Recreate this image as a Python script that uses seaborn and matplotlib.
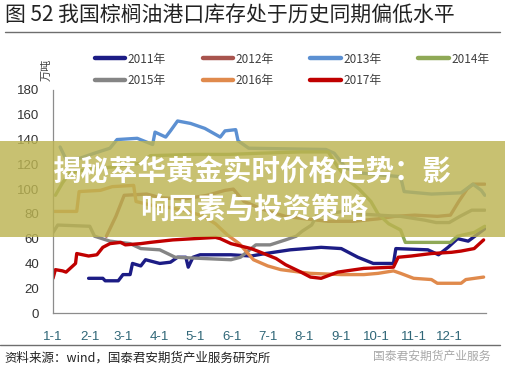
import numpy as np
import pandas as pd
import matplotlib
matplotlib.use("Agg")
import matplotlib.pyplot as plt
import seaborn as sns
from matplotlib.lines import Line2D
from matplotlib.patches import Rectangle

# ----- data (day of year, stock in 10k tonnes) -----
years = ["2011年", "2012年", "2013年", "2014年", "2015年", "2016年", "2017年"]
colors = ["#1C1C85", "#A8544E", "#5C90D2", "#8FA956", "#858585", "#E08A4C", "#C00000"]

day_2011 = [30, 42, 44, 55, 59, 65, 67, 74, 78, 90, 99, 105, 112, 114, 118, 124, 150, 167, 179, 200, 226, 243, 257, 270, 287, 289, 316, 325, 333, 341, 350, 357, 364]
val_2011 = [28, 28, 26, 26, 31, 31, 40, 38, 43, 40, 41, 45, 45, 37, 45, 47, 47, 46, 48, 51, 53, 52, 45, 40, 40, 52, 51, 47, 53, 60, 58, 63, 68]

day_2012 = [45, 53, 60, 79, 91, 110, 130, 145, 152, 161, 171, 182, 196, 213, 232, 253, 274, 288, 305, 324, 335, 342, 349, 354, 364]
val_2012 = [62, 78, 95, 96, 93, 92, 95, 99, 100, 90, 86, 82, 78, 76, 74, 74, 76, 78, 79, 78, 79, 90, 100, 104, 104]

day_2013 = [6, 11, 23, 35, 48, 54, 71, 84, 86, 95, 99, 105, 116, 128, 141, 145, 154, 156, 165, 230, 237, 247, 259, 293, 296, 319, 344, 354, 361, 364]
val_2013 = [134, 124, 125, 129, 133, 140, 141, 136, 146, 142, 147, 155, 153, 149, 142, 147, 148, 139, 133, 132, 129, 117, 113, 110, 98, 96, 97, 104, 99, 95]

day_2014 = [2, 8, 14, 29, 52, 74, 82, 120, 148, 175, 209, 232, 240, 248, 258, 268, 274, 283, 293, 297, 335, 341, 355, 364]
val_2014 = [95, 105, 113, 116, 118, 121, 127, 128, 128, 129, 130, 130, 118, 108, 100, 90, 80, 72, 67, 57, 57, 62, 65, 70]

day_2015 = [0, 4, 31, 35, 48, 65, 74, 90, 103, 150, 158, 171, 183, 196, 205, 210, 218, 222, 232, 244, 258, 274, 293, 313, 323, 334, 343, 353, 364]
val_2015 = [65, 71, 70, 62, 58, 56, 52, 51, 45, 43, 45, 55, 55, 59, 62, 66, 71, 78, 80, 82, 80, 79, 78, 75, 73, 73, 78, 83, 83]

day_2016 = [0, 20, 22, 40, 50, 68, 70, 83, 99, 114, 127, 137, 147, 157, 169, 181, 192, 208, 217, 243, 262, 274, 287, 293, 304, 319, 324, 344, 348, 363]
val_2016 = [82, 82, 98, 99, 102, 103, 90, 87, 85, 82, 78, 72, 63, 56, 43, 38, 35, 33, 32, 31, 31, 32, 34, 32, 28, 27, 24, 24, 27, 29]

day_2017 = [0, 2, 8, 11, 19, 20, 30, 37, 42, 48, 57, 61, 74, 82, 101, 137, 141, 150, 167, 175, 188, 196, 209, 217, 226, 240, 262, 287, 291, 302, 319, 336, 344, 355, 363]
val_2017 = [28, 35, 34, 33, 40, 48, 46, 47, 53, 56, 57, 55, 56, 57, 59, 61, 60, 56, 52, 49, 44, 39, 33, 29, 28, 33, 36, 37, 45, 46, 48, 49, 50, 52, 59]

month_days = [0, 31, 59, 90, 120, 151, 181, 212, 243, 273, 304, 334]
month_labels = ["1-1", "2-1", "3-1", "4-1", "5-1", "6-1", "7-1", "8-1", "9-1", "10-1", "11-1", "12-1"]
y_ticks = [0, 20, 40, 60, 80, 100, 120, 140, 160, 180]

series = [(day_2011, val_2011), (day_2012, val_2012), (day_2013, val_2013), (day_2014, val_2014),
          (day_2015, val_2015), (day_2016, val_2016), (day_2017, val_2017)]
frames = []
for yr, (d, v) in zip(years, series):
    frames.append(pd.DataFrame({"day": d, "value": v, "year": yr}))
df = pd.concat(frames, ignore_index=True)

# ----- figure -----
sns.set_style("white")
plt.rcParams["font.family"] = ["Noto Sans CJK SC", "DejaVu Sans"]

fig = plt.figure(figsize=(5.05, 3.79), dpi=100)
ax = fig.add_axes([53 / 505, 1 - 313 / 379, 433 / 505, 223 / 379])

sns.lineplot(data=df, x="day", y="value", hue="year", hue_order=years,
             palette=colors, linewidth=2.4, ax=ax, legend=False, sort=False)

ax.set_xlim(0, 365)
ax.set_ylim(0, 180)
ax.set_yticks(y_ticks)
ax.set_yticklabels([str(t) for t in y_ticks], color="#333333", fontsize=9.5,
                   family=["Liberation Sans", "DejaVu Sans"])
ax.set_xticks(month_days + [365])
ax.set_xticklabels(month_labels + [""], color="#2F6677", fontsize=9.5,
                   family=["Liberation Sans", "DejaVu Sans"])
ax.tick_params(axis="both", length=4, width=0.8, color="#888888", direction="out", pad=6)
ax.tick_params(axis="x", pad=9)
ax.set_xlabel("")
ax.set_ylabel("")
for s in ["top", "right"]:
    ax.spines[s].set_visible(False)
for s in ["left", "bottom"]:
    ax.spines[s].set_color("#8C8C8C")
    ax.spines[s].set_linewidth(0.9)

# legend, reordered so rows read 2011..2014 / 2015..2017
order = [0, 4, 1, 5, 2, 6, 3]
handles = [Line2D([0], [0], color=colors[i], lw=3.2) for i in order]
labels = [years[i] for i in order]
fig.legend(handles, labels, loc="upper left", bbox_to_anchor=(84 / 505, 1 - 42 / 379),
           ncol=4, frameon=False, fontsize=8.5, handlelength=2.6, handletextpad=0.2,
           columnspacing=3.1, labelspacing=0.75, labelcolor="#404040")

fig.text(47 / 505, 1 - 70 / 379, "万吨", rotation=90, ha="center", va="center",
         fontsize=8, color="#404040")

# title and rules
fig.text(5 / 505, 1 - 16 / 379, "图 52 我国棕榈油港口库存处于历史同期偏低水平",
         ha="left", va="center", fontsize=15, color="#222222")
fig.add_artist(Line2D([5 / 505, 500 / 505], [1 - 32 / 379, 1 - 32 / 379],
                      color="#6E6E6E", lw=1.0))
fig.add_artist(Line2D([0, 500 / 505], [1 - 345 / 379, 1 - 345 / 379],
                      color="#6E6E6E", lw=1.0))
fig.text(4 / 505, 1 - 358 / 379, "资料来源：wind，国泰君安期货产业服务研究所",
         ha="left", va="center", fontsize=9, color="#222222")
fig.text(490 / 505, 1 - 356 / 379, "国泰君安期货产业服务",
         ha="right", va="center", fontsize=8.5, color="#A8A8A8")

# banner overlay
fig.add_artist(Rectangle((0, 1 - 237 / 379), 1, 96 / 379, transform=fig.transFigure,
                         facecolor="#BCB452", alpha=0.82, edgecolor="none", zorder=5))
fig.text(252 / 505, 1 - 172 / 379, "揭秘萃华黄金实时价格走势：影",
         ha="center", va="center", fontsize=20.5, fontweight="bold", color="white", zorder=6)
fig.text(254 / 505, 1 - 210 / 379, "响因素与投资策略",
         ha="center", va="center", fontsize=20.5, fontweight="bold", color="white", zorder=6)

fig.savefig("out.png", dpi=100)
